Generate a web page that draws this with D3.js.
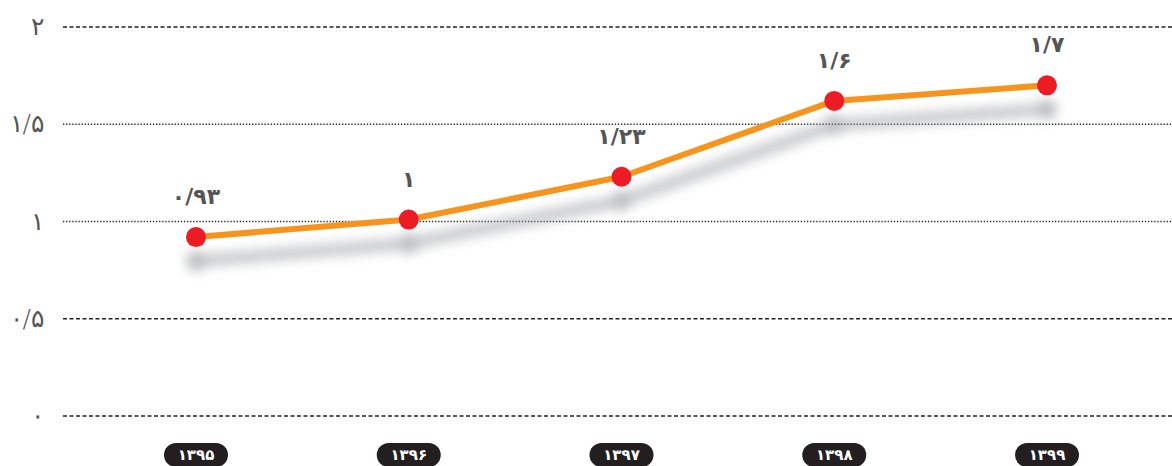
<!DOCTYPE html>
<html>
<head>
<meta charset="utf-8">
<script src="https://cdn.jsdelivr.net/npm/d3@7"></script>
<style>
  body { margin: 0; background: #fff; }
  svg { display: block; }
</style>
</head>
<body>
<div id="chart"></div>
<script>
// years on the x axis
let years = ["۱۳۹۵", "۱۳۹۶", "۱۳۹۷", "۱۳۹۸", "۱۳۹۹"]
let values = [0.92, 1.01, 1.23, 1.62, 1.70]
let value_labels = ["۰/۹۳", "۱", "۱/۲۳", "۱/۶", "۱/۷"]
let y_ticks = [0, 0.5, 1, 1.5, 2]
let y_tick_labels = ["۰", "۰/۵", "۱", "۱/۵", "۲"]
let dotted_ticks = [1, 1.5]

let width = 1172, height = 466
let svg = d3.select("#chart").append("svg")
    .attr("width", width)
    .attr("height", height)

let defs = svg.append("defs")
defs.append("filter")
    .attr("id", "blur")
    .attr("x", "-10%").attr("y", "-50%")
    .attr("width", "120%").attr("height", "200%")
  .append("feGaussianBlur")
    .attr("stdDeviation", 6)

let x = d3.scalePoint()
    .domain(years)
    .range([196, 1047])

let y = d3.scaleLinear()
    .domain([0, 2])
    .range([416, 27])

// grid
let grid = svg.append("g").attr("class", "grid")
grid.selectAll("line")
    .data(y_ticks)
    .enter().append("line")
    .attr("x1", 63)
    .attr("x2", width)
    .attr("y1", (d) => y(d))
    .attr("y2", (d) => y(d))
    .style("stroke", "#222")
    .style("stroke-width", 1.3)
    .style("stroke-dasharray", (d) => dotted_ticks.indexOf(d) != -1 ? "1.3,1.8" : "4,2.5")

// y axis labels
let yAxis = d3.axisLeft(y)
    .tickValues(y_ticks)
    .tickFormat((d, i) => y_tick_labels[i])
    .tickSize(0)
    .tickPadding(0)
svg.append("g")
    .attr("transform", "translate(44,0)")
    .call(yAxis)
    .call(g => g.select(".domain").remove())
    .call(g => g.selectAll("text")
        .style("font-family", "'DejaVu Sans', sans-serif")
        .style("font-weight", "300")
        .style("font-size", "25px")
        .style("fill", "#555")
        .attr("dy", "0.3em"))

let points = years.map((yr, i) => ({ year: yr, value: values[i], label: value_labels[i] }))

let line = d3.line()
    .x((d) => x(d.year))
    .y((d) => y(d.value))

// shadow
let shadow = svg.append("g")
    .attr("transform", "translate(0,24)")
    .attr("filter", "url(#blur)")
    .style("opacity", 0.6)
shadow.append("path")
    .datum(points)
    .attr("d", line)
    .style("fill", "none")
    .style("stroke", "#a0a3a7")
    .style("stroke-width", 12)
shadow.selectAll("circle")
    .data(points)
    .enter().append("circle")
    .attr("cx", (d) => x(d.year))
    .attr("cy", (d) => y(d.value))
    .attr("r", 10)
    .style("fill", "#8e9195")

svg.append("path")
    .datum(points)
    .attr("d", line)
    .style("fill", "none")
    .style("stroke", "#F7941D")
    .style("stroke-width", 6)
    .style("stroke-linejoin", "round")

svg.selectAll(".dot")
    .data(points)
    .enter().append("circle")
    .attr("class", "dot")
    .attr("cx", (d) => x(d.year))
    .attr("cy", (d) => y(d.value))
    .attr("r", 10)
    .style("fill", "#ED1C24")

svg.selectAll(".val")
    .data(points)
    .enter().append("text")
    .attr("class", "val")
    .attr("x", (d) => x(d.year))
    .attr("y", (d) => y(d.value) - 33)
    .attr("text-anchor", "middle")
    .style("font-family", "'DejaVu Sans', sans-serif")
    .style("font-weight", "bold")
    .style("font-size", "22px")
    .style("fill", "#555")
    .text((d) => d.label)

// year pills
let pills = svg.selectAll(".pill")
    .data(years)
    .enter().append("g")
    .attr("class", "pill")
    .attr("transform", (d) => "translate(" + x(d) + ",455)")
pills.append("rect")
    .attr("x", -32)
    .attr("y", -12)
    .attr("width", 64)
    .attr("height", 24)
    .attr("rx", 12)
    .style("fill", "#231f20")
pills.append("text")
    .attr("text-anchor", "middle")
    .attr("dy", "0.35em")
    .style("font-family", "'DejaVu Sans', sans-serif")
    .style("font-weight", "bold")
    .style("font-size", "15px")
    .style("fill", "#fff")
    .text((d) => d)
</script>
</body>
</html>
